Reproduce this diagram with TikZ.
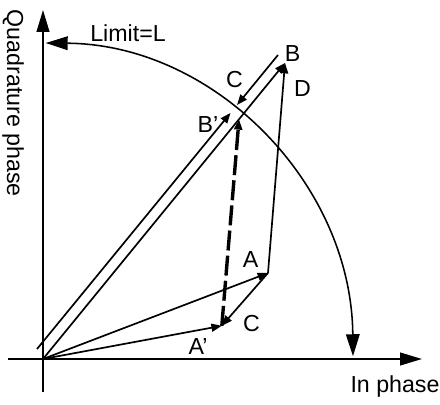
\documentclass[tikz,border=0pt]{standalone}
\usepackage{fontspec}
\setmainfont{Liberation Sans}
\usetikzlibrary{arrows.meta,calc,positioning}
\tikzset{
  axis/.style={-{Triangle[length=5.5mm,width=3.2mm]}, line width=1.3pt},
  vec/.style={-{Triangle[length=2.6mm,width=2mm]}, line width=1.2pt},
  limit/.style={{Triangle[length=5.5mm,width=3.4mm]}-{Triangle[length=5.5mm,width=3.4mm]}, line width=1.1pt},
  drift/.style={vec, line width=2.4pt, dash pattern=on 5mm off 1.3mm},
  note/.style={font=\fontsize{16.5}{19}\selectfont, inner sep=0pt}
}

\begin{document}
\begin{tikzpicture}
  \useasboundingbox (-1.075,-1.125) rectangle (9.925,8.975);
  % phasor points
  \coordinate (O) at (0,0);
  \coordinate (Ob) at (-0.15,0.25);
  \coordinate (A) at (5.625,2.15);
  \coordinate (Ap) at (4.47,0.83);
  \coordinate (B) at (6.05,7.4);
  \coordinate (Bt) at (5.875,7.6);
  \coordinate (Bp) at ($(Ob)!0.803!(Bt)$);
  \coordinate (Cb) at ($(Ob)!0.83!(Bt)$);
  \coordinate (Bd) at ($(O)!0.81!(B)$);
  % axes
  \coordinate (xs) at (-0.875,0);
  \coordinate (xe) at (9.475,0);
  \coordinate (ys) at (0,-0.825);
  \coordinate (ye) at (0,8.725);
  \draw[axis] (xs) -- (xe);
  \draw[axis] (ys) -- (ye);
  \node[note] (inph) at (8.8,-0.69) {In phase};
  \node[note,rotate=-90] (quad) at (-0.75,6.39) {Quadrature phase};
  % limit circle
  \draw[limit] (O) ++(89.5:7.75 and 7.9) arc[start angle=89.5, end angle=0.5, x radius=7.75, y radius=7.9];
  \node[note] (lim) at (2.125,8.15) {Limit=L};
  % vectors
  \draw[vec] (O) -- (Ap);
  \draw[vec] (O) -- (A);
  \draw[vec] (A) -- (Ap);
  \draw[vec] (A) -- (B);
  \draw[vec] (O) -- (B);
  \draw[vec] (Ob) -- (Bp);
  \draw[vec] (Bt) -- (Cb);
  \draw[drift] (Ap) -- (Bd);
  % labels
  \node[note] (la) at (5.19,2.475) {A};
  \node[note] (lap) at (3.875,0.3) {A’};
  \node[note] (lc1) at (5.21,0.89) {C};
  \node[note] (lb) at (6.24,7.64) {B};
  \node[note] (lbp) at (4.125,5.85) {B’};
  \node[note] (lc2) at (4.79,6.99) {C};
  \node[note] (ld) at (6.49,6.76) {D};
\end{tikzpicture}
\end{document}
